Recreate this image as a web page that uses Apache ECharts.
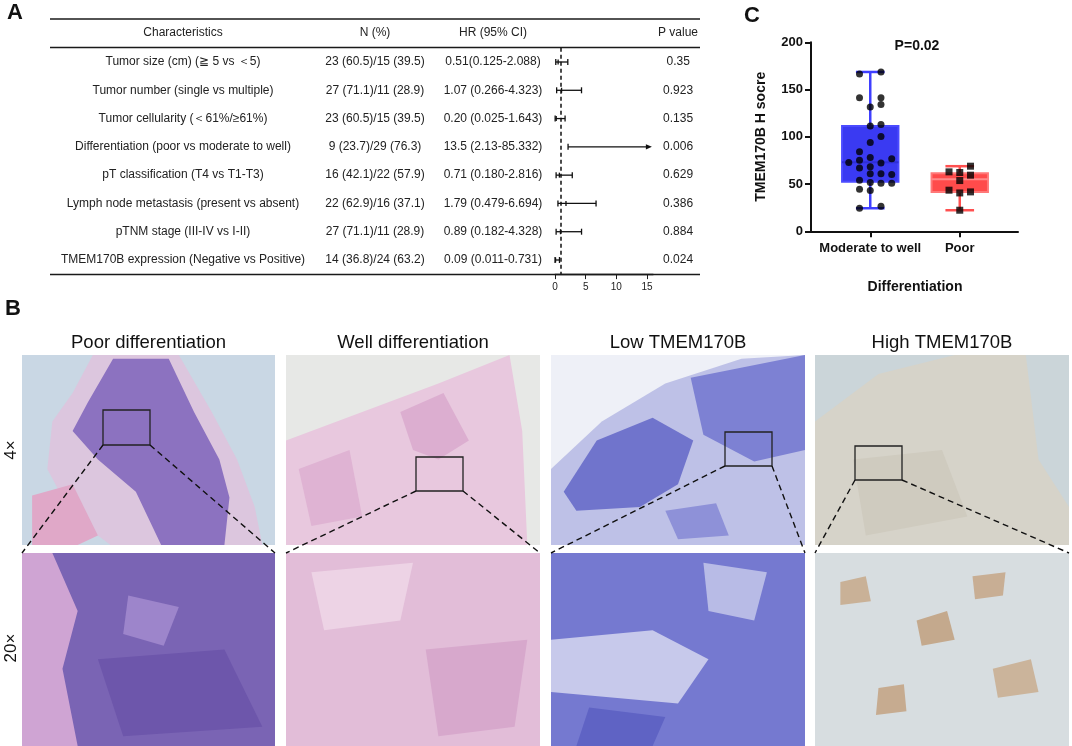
<!DOCTYPE html>
<html>
  <head>
    <meta charset="utf-8" />
    <title>TMEM170B</title>
    <script src="https://cdn.jsdelivr.net/npm/echarts@6.0.0/dist/echarts.min.js"></script>
    <style>
      html, body { margin: 0; padding: 0; background: #fff; }
      #main { width: 1072px; height: 746px; }
    </style>
  </head>
  <body>
    <div id="main"></div>
    <script type="text/javascript">
      // ---- panel A: univariate table + forest plot ----
      var characteristics = [
        'Tumor size (cm) (\u2267 5 vs \uFF1C5)',
        'Tumor number (single vs multiple)',
        'Tumor cellularity (\uFF1C61%/\u226561%)',
        'Differentiation (poor vs moderate to well)',
        'pT classification (T4 vs T1-T3)',
        'Lymph node metastasis (present vs absent)',
        'pTNM stage (III-IV vs I-II)',
        'TMEM170B expression (Negative vs Positive)'
      ];
      var nText = ['23 (60.5)/15 (39.5)', '27 (71.1)/11 (28.9)', '23 (60.5)/15 (39.5)', '9 (23.7)/29 (76.3)',
                   '16 (42.1)/22 (57.9)', '22 (62.9)/16 (37.1)', '27 (71.1)/11 (28.9)', '14 (36.8)/24 (63.2)'];
      var hrText = ['0.51(0.125-2.088)', '1.07 (0.266-4.323)', '0.20 (0.025-1.643)', '13.5 (2.13-85.332)',
                    '0.71 (0.180-2.816)', '1.79 (0.479-6.694)', '0.89 (0.182-4.328)', '0.09 (0.011-0.731)'];
      var hrValue = [0.51, 1.07, 0.20, 13.5, 0.71, 1.79, 0.89, 0.09];
      var ciLow = [0.125, 0.266, 0.025, 2.13, 0.180, 0.479, 0.182, 0.011];
      var ciHigh = [2.088, 4.323, 1.643, 85.332, 2.816, 6.694, 4.328, 0.731];
      var pText = ['0.35', '0.923', '0.135', '0.006', '0.629', '0.386', '0.884', '0.024'];
      var hrTicks = [0, 5, 10, 15];
      var headers = ['Characteristics', 'N (%)', 'HR (95% CI)', 'P value'];

      // ---- panel C: H score by differentiation ----
      var groups = ['Moderate to well', 'Poor'];
      var moderateScores = [72.8,
        166.5, 141.4, 84.1, 75.3, 67.1, 54.1, 44.5, 24.4,
        131.5, 111.3, 94.0, 78.1, 68.2, 60.8, 51.6, 43.1,
        168.6, 141.4, 134.3, 113.1, 100.4, 72.4, 60.8, 50.9, 26.5,
        76.7, 60.1, 50.9];
      var moderateSlot = [-2,
        -1, -1, -1, -1, -1, -1, -1, -1,
        0, 0, 0, 0, 0, 0, 0, 0,
        1, 1, 1, 1, 1, 1, 1, 1, 1,
        2, 2, 2];
      var poorScores = [62.9, 43.5, 62.2, 53.7, 40.6, 22.3, 68.9, 59.4, 41.7];
      var poorSlot = [-1, -1, 0, 0, 0, 0, 1, 1, 1];
      // min, Q1, median, Q3, max
      var boxStats = [
        [24.4, 52.5, 73.0, 111.5, 168.6],
        [22.3, 41.7, 55.0, 61.5, 68.9]
      ];
      var pLabel = 'P=0.02';

      var FONT = 'Liberation Sans, Arial, Helvetica, sans-serif';
      var arrowAt = 15.8;
      var slotStep = 0.12;
      var boxStyle = [
        { fill: '#3a3af2', edge: '#4b4bff', whisker: '#3f3fff', median: '#2f2fd8' },
        { fill: '#ff4b4b', edge: '#ff7878', whisker: '#ff5050', median: '#ff8a8a' }
      ];

      var chart = echarts.init(document.getElementById('main'));

      function txt(x, y, s, size, opt) {
        opt = opt || {};
        return {
          type: 'text', x: x, y: y, rotation: opt.rotation || 0, z: 10,
          style: {
            text: s, fontSize: size, fontFamily: FONT, fontWeight: opt.bold ? 'bold' : 'normal',
            fill: opt.color || '#111',
            align: opt.align || 'center', verticalAlign: 'middle',
            textAlign: opt.align || 'center', textVerticalAlign: 'middle'
          }
        };
      }
      function hline(x1, x2, y, w) {
        return { type: 'line', z: 5, shape: { x1: x1, y1: y, x2: x2, y2: y }, style: { stroke: '#1a1a1a', lineWidth: w } };
      }

      // ---- panel B: stand-ins for the micrographs ----
      var tiles = [
        { x: 22, y: 355, w: 253, h: 190, bg: '#c9d7e4', blobs: [
          ['#dcc6de', [[0.28,0],[0.62,0],[0.75,0.3],[0.85,0.55],[0.92,0.8],[0.95,1],[0.35,1],[0.2,0.85],[0.1,0.6],[0.12,0.35],[0.2,0.2]]],
          ['#8c72c0', [[0.36,0.02],[0.58,0.02],[0.68,0.3],[0.78,0.55],[0.82,0.75],[0.8,1],[0.55,1],[0.45,0.72],[0.3,0.55],[0.2,0.4],[0.26,0.25]]],
          ['#e0a8c8', [[0.04,0.74],[0.2,0.68],[0.3,0.95],[0.22,1],[0.04,1]]]
        ] },
        { x: 286, y: 355, w: 254, h: 190, bg: '#e7e8e6', blobs: [
          ['#e8c8de', [[0,0.45],[0.3,0.3],[0.6,0.15],[0.88,0],[0.93,0.4],[0.95,1],[0,1]]],
          ['#dcaed0', [[0.45,0.3],[0.62,0.2],[0.72,0.45],[0.6,0.55],[0.5,0.5]]],
          ['#dfb3d3', [[0.05,0.6],[0.25,0.5],[0.3,0.85],[0.1,0.9]]]
        ] },
        { x: 551, y: 355, w: 254, h: 190, bg: '#eef0f7', blobs: [
          ['#bec1e7', [[0,0.6],[0.2,0.35],[0.45,0.15],[0.75,0.02],[1,0],[1,1],[0,1]]],
          ['#7074cc', [[0.05,0.72],[0.18,0.45],[0.4,0.33],[0.56,0.45],[0.5,0.68],[0.35,0.8],[0.1,0.82]]],
          ['#7d81d3', [[0.55,0.12],[1,0],[1,0.5],[0.8,0.56],[0.6,0.42]]],
          ['#8e91d8', [[0.45,0.82],[0.65,0.78],[0.7,0.95],[0.5,0.97]]]
        ] },
        { x: 815, y: 355, w: 254, h: 190, bg: '#cbd5d9', blobs: [
          ['#d6d3c9', [[0,0.35],[0.25,0.1],[0.55,0],[0.83,0],[0.88,0.55],[1,0.8],[1,1],[0,1]]],
          ['#cfcbbf', [[0.15,0.55],[0.5,0.5],[0.6,0.85],[0.2,0.95]]]
        ] },
        { x: 22, y: 553, w: 253, h: 193, bg: '#7a64b4', blobs: [
          ['#cfa4d3', [[0,0],[0.12,0],[0.22,0.3],[0.16,0.6],[0.22,1],[0,1]]],
          ['#9d85cb', [[0.42,0.22],[0.62,0.28],[0.56,0.48],[0.4,0.42]]],
          ['#6d56ab', [[0.3,0.55],[0.8,0.5],[0.95,0.9],[0.4,0.95]]]
        ] },
        { x: 286, y: 553, w: 254, h: 193, bg: '#e2bdd8', blobs: [
          ['#edd3e5', [[0.1,0.1],[0.5,0.05],[0.45,0.35],[0.15,0.4]]],
          ['#d7a8cc', [[0.55,0.5],[0.95,0.45],[0.9,0.9],[0.6,0.95]]]
        ] },
        { x: 551, y: 553, w: 254, h: 193, bg: '#7579d0', blobs: [
          ['#c7c9eb', [[0,0.45],[0.4,0.4],[0.62,0.55],[0.5,0.78],[0,0.72]]],
          ['#b8bbe6', [[0.6,0.05],[0.85,0.1],[0.8,0.35],[0.62,0.3]]],
          ['#5f63c4', [[0.15,0.8],[0.45,0.85],[0.4,1],[0.1,1]]]
        ] },
        { x: 815, y: 553, w: 254, h: 193, bg: '#d7dde0', blobs: [
          ['#c9b197', [[0.1,0.15],[0.2,0.12],[0.22,0.25],[0.1,0.27]]],
          ['#c4a98d', [[0.4,0.35],[0.52,0.3],[0.55,0.45],[0.42,0.48]]],
          ['#cbb49b', [[0.7,0.6],[0.85,0.55],[0.88,0.72],[0.72,0.75]]],
          ['#c6ab90', [[0.25,0.7],[0.35,0.68],[0.36,0.82],[0.24,0.84]]],
          ['#c8ae94', [[0.62,0.12],[0.75,0.1],[0.74,0.22],[0.63,0.24]]]
        ] }
      ];
      var insets = [[103, 410, 47, 35], [416, 457, 47, 34], [725, 432, 47, 34], [855, 446, 47, 34]];
      var bTitles = ['Poor differentiation', 'Well differentiation', 'Low TMEM170B', 'High TMEM170B'];

      var graphics = [];
      tiles.forEach(function (t) {
        graphics.push({ type: 'rect', shape: { x: t.x, y: t.y, width: t.w, height: t.h }, style: { fill: t.bg } });
        t.blobs.forEach(function (b) {
          graphics.push({
            type: 'polygon',
            shape: { points: b[1].map(function (p) { return [t.x + p[0] * t.w, t.y + p[1] * t.h]; }) },
            style: { fill: b[0] }
          });
        });
      });
      insets.forEach(function (r, i) {
        var t = tiles[i], lower = tiles[i + 4];
        graphics.push({ type: 'rect', z: 6, shape: { x: r[0], y: r[1], width: r[2], height: r[3] },
          style: { fill: null, stroke: '#222', lineWidth: 1.3 } });
        graphics.push({ type: 'line', z: 6, shape: { x1: r[0], y1: r[1] + r[3], x2: lower.x, y2: lower.y },
          style: { stroke: '#111', lineWidth: 1.4, lineDash: [6, 4] } });
        graphics.push({ type: 'line', z: 6, shape: { x1: r[0] + r[2], y1: r[1] + r[3], x2: lower.x + lower.w, y2: lower.y },
          style: { stroke: '#111', lineWidth: 1.4, lineDash: [6, 4] } });
        graphics.push(txt(t.x + t.w / 2, 343, bTitles[i], 18.5));
      });
      graphics.push(txt(11, 450, '4\u00D7', 17, { rotation: Math.PI / 2 }));
      graphics.push(txt(11, 648, '20\u00D7', 17, { rotation: Math.PI / 2 }));

      // panel letters
      graphics.push(txt(15, 13, 'A', 22, { bold: true }));
      graphics.push(txt(13, 309, 'B', 22, { bold: true }));
      graphics.push(txt(752, 16, 'C', 22, { bold: true }));

      // table rules and headers
      graphics.push(hline(50, 700, 19, 1.4));
      graphics.push(hline(50, 700, 47.5, 1.4));
      graphics.push(hline(50, 700, 274.5, 1.4));
      [183, 375, 493, 678].forEach(function (x, i) {
        graphics.push(txt(x, 33, headers[i], 12, { color: '#222' }));
      });
      graphics.push(txt(917, 46, pLabel, 14, { bold: true }));

      function renderForest(params, api) {
        var row = api.value(0), lo = api.value(1), hi = api.value(2), est = api.value(3);
        var clipped = hi > arrowAt;
        var a = api.coord([lo, row]);
        var b = api.coord([clipped ? arrowAt : hi, row]);
        var m = api.coord([est, row]);
        var st = { stroke: '#111', lineWidth: 1.3 };
        var kids = [
          { type: 'line', shape: { x1: a[0], y1: a[1], x2: clipped ? b[0] - 4 : b[0], y2: b[1] }, style: st },
          { type: 'line', shape: { x1: a[0], y1: a[1] - 3, x2: a[0], y2: a[1] + 3 }, style: st }
        ];
        if (clipped) {
          kids.push({ type: 'polygon', shape: { points: [[b[0], b[1]], [b[0] - 6, b[1] - 2.6], [b[0] - 6, b[1] + 2.6]] },
            style: { fill: '#111' } });
        } else {
          kids.push({ type: 'line', shape: { x1: b[0], y1: b[1] - 3, x2: b[0], y2: b[1] + 3 }, style: st });
          kids.push({ type: 'line', shape: { x1: m[0], y1: m[1] - 2.5, x2: m[0], y2: m[1] + 2.5 }, style: st });
        }
        return { type: 'group', children: kids };
      }

      function renderBox(params, api) {
        var c = api.value(0);
        var band = api.size([1, 0])[0];
        var hw = band * 0.315, cw = band * 0.16;
        var p = [1, 2, 3, 4, 5].map(function (d) { return api.coord([c, api.value(d)]); });
        var x = p[0][0];
        var s = boxStyle[params.dataIndex];
        var ws = { stroke: s.whisker, lineWidth: 2.5 };
        return { type: 'group', children: [
          { type: 'line', shape: { x1: x, y1: p[0][1], x2: x, y2: p[4][1] }, style: ws },
          { type: 'line', shape: { x1: x - cw, y1: p[0][1], x2: x + cw, y2: p[0][1] }, style: ws },
          { type: 'line', shape: { x1: x - cw, y1: p[4][1], x2: x + cw, y2: p[4][1] }, style: ws },
          { type: 'rect', shape: { x: x - hw, y: p[3][1], width: 2 * hw, height: p[1][1] - p[3][1] },
            style: { fill: s.fill, stroke: s.edge, lineWidth: 2 } },
          { type: 'line', shape: { x1: x - hw, y1: p[2][1], x2: x + hw, y2: p[2][1] },
            style: { stroke: s.median, lineWidth: 2 } }
        ] };
      }

      var catAxisA = function (data, pos, margin) {
        return {
          type: 'category', gridIndex: 0, inverse: true, position: pos, data: data,
          axisLine: { show: false }, axisTick: { show: false }, splitLine: { show: false },
          axisLabel: { interval: 0, margin: margin, align: 'center', fontSize: 12, fontFamily: FONT, color: '#222' }
        };
      };
      var blackBold = { color: '#111', fontFamily: FONT, fontWeight: 'bold' };

      var option = {
        animation: false,
        backgroundColor: '#fff',
        graphic: { elements: graphics },
        grid: [
          { left: 555, top: 47.86, width: 98.13, height: 226.28, outerBoundsMode: 'none' },
          { left: 811, top: 42.3, width: 207, height: 189, outerBoundsMode: 'none' },
          { left: 825.5, top: 42.3, width: 179, height: 189, outerBoundsMode: 'none' }
        ],
        xAxis: [
          { type: 'value', gridIndex: 0, min: 0, max: 16, interval: 5,
            axisLine: { show: true, lineStyle: { color: '#1a1a1a', width: 1.4 } },
            axisTick: { show: true, customValues: hrTicks, length: 5, lineStyle: { color: '#1a1a1a', width: 1 } },
            axisLabel: { customValues: hrTicks, fontSize: 10, margin: 8, color: '#222', fontFamily: FONT },
            splitLine: { show: false } },
          { type: 'value', gridIndex: 1, min: 0, max: 1,
            axisLine: { show: true, lineStyle: { color: '#111', width: 2 } },
            axisTick: { show: false }, axisLabel: { show: false }, splitLine: { show: false } },
          { type: 'category', gridIndex: 2, data: groups,
            axisLine: { show: false },
            axisTick: { show: true, alignWithLabel: true, length: 6, lineStyle: { color: '#111', width: 2 } },
            axisLabel: Object.assign({ interval: 0, fontSize: 13, margin: 11 }, blackBold),
            name: 'Differentiation', nameLocation: 'middle', nameGap: 49,
            nameTextStyle: Object.assign({ fontSize: 14 }, blackBold) },
          { type: 'value', gridIndex: 2, min: -0.5, max: 1.5, show: false }
        ],
        yAxis: [
          catAxisA(characteristics, 'left', 372),
          catAxisA(nText, 'left', 180),
          catAxisA(hrText, 'left', 62),
          catAxisA(pText, 'right', 25),
          { type: 'value', gridIndex: 1, min: 0, max: 200, interval: 50,
            axisLine: { show: true, lineStyle: { color: '#111', width: 2 } },
            axisTick: { show: true, length: 6, lineStyle: { color: '#111', width: 2 } },
            axisLabel: Object.assign({ fontSize: 13, margin: 8 }, blackBold),
            splitLine: { show: false },
            name: 'TMEM170B H socre', nameLocation: 'middle', nameGap: 43,
            nameTextStyle: Object.assign({ fontSize: 14 }, blackBold) },
          { type: 'value', gridIndex: 2, min: 0, max: 200, show: false }
        ],
        series: [
          {
            type: 'custom', name: 'HR', xAxisIndex: 0, yAxisIndex: 0, clip: false,
            renderItem: renderForest,
            encode: { x: [1, 2, 3], y: 0 },
            data: characteristics.map(function (c, i) { return [i, ciLow[i], ciHigh[i], hrValue[i]]; }),
            markLine: {
              silent: true, symbol: ['none', 'none'], label: { show: false },
              lineStyle: { type: [4, 3], width: 1.5, color: '#111' },
              data: [{ xAxis: 1 }]
            }
          },
          {
            type: 'custom', name: 'box', xAxisIndex: 2, yAxisIndex: 5, clip: false,
            renderItem: renderBox,
            encode: { x: 0, y: [1, 2, 3, 4, 5] },
            data: boxStats.map(function (s, i) { return [i].concat(s); })
          },
          {
            type: 'scatter', name: groups[0], xAxisIndex: 3, yAxisIndex: 5,
            symbol: 'circle', symbolSize: 7, itemStyle: { color: '#000' }, z: 5,
            data: moderateScores.map(function (v, i) { return [0 + moderateSlot[i] * slotStep, v]; })
          },
          {
            type: 'scatter', name: groups[1], xAxisIndex: 3, yAxisIndex: 5,
            symbol: 'rect', symbolSize: 7, itemStyle: { color: '#000' }, z: 5,
            data: poorScores.map(function (v, i) { return [1 + poorSlot[i] * slotStep, v]; })
          }
        ]
      };
      chart.setOption(option);
    </script>
  </body>
</html>
